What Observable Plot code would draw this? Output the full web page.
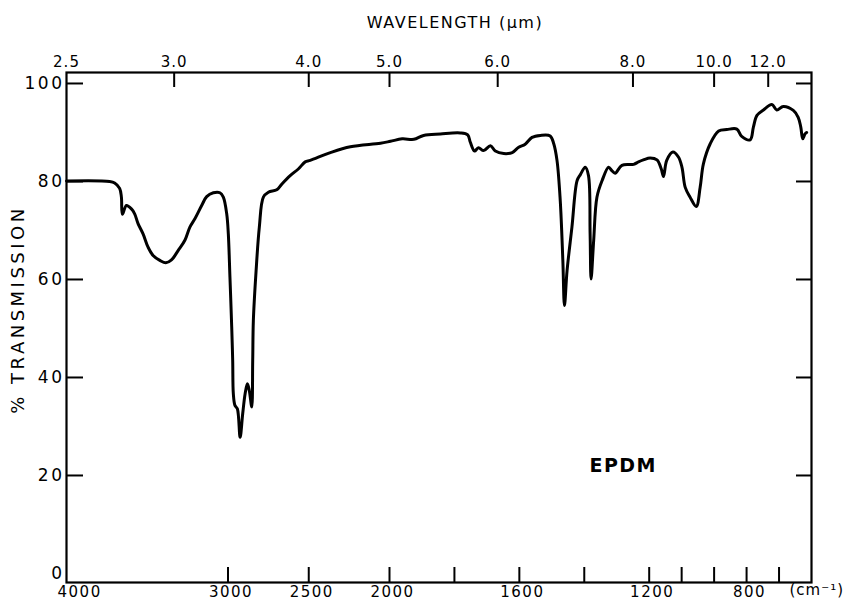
<!DOCTYPE html>
<html>
<head>
<meta charset="utf-8">
<script src="https://cdn.jsdelivr.net/npm/d3@7"></script>
<script src="https://cdn.jsdelivr.net/npm/@observablehq/plot@0.6"></script>
<style>
  html, body { margin: 0; padding: 0; background: #fff; }
  #chart svg { display: block; }
  text[aria-label="y-labels"] { letter-spacing: 2.5px; }
  text[aria-label="x-labels"] { letter-spacing: 1.5px; }
  text[aria-label="x-unit"] { letter-spacing: 1px; }
  text[aria-label="wavelength-labels"] { letter-spacing: 1px; }
  text[aria-label="x-title"] { letter-spacing: 1.5px; }
  text[aria-label="y-title"] { letter-spacing: 3.5px; }
  text[aria-label="sample"] { letter-spacing: 1.5px; }
</style>
</head>
<body>
<div id="chart"></div>
<script>
// IR spectrum of EPDM: wavenumber (cm^-1) and % transmission
const wavenumber = [
  4000, 3733, 3702, 3671, 3660, 3654, 3629, 3598, 3578, 3557, 3526, 3495, 3464, 3422,
  3385, 3350, 3309, 3267, 3236, 3205, 3163, 3132, 3091, 3050, 3029, 3008, 2998, 2988,
  2977, 2971, 2967, 2957, 2942, 2925, 2909, 2894, 2880, 2868, 2853, 2847, 2843, 2826,
  2806, 2781, 2750, 2698, 2666, 2615, 2563, 2522, 2491, 2366, 2242, 2056,
  1997, 1961, 1925, 1895, 1843, 1782, 1759, 1751, 1738, 1726, 1710, 1689, 1674, 1648,
  1622, 1602, 1582, 1561, 1535, 1505, 1494, 1484, 1474, 1466, 1461, 1453, 1438, 1422,
  1412, 1397, 1387, 1382, 1379, 1371, 1361, 1345, 1325, 1315, 1305, 1284, 1248, 1233,
  1218, 1197, 1176, 1163, 1156, 1146, 1127, 1110, 1099, 1089, 1074, 1055, 1043, 1033,
  1012, 986, 961, 930, 915, 889, 879, 868, 848, 822, 807, 787, 756, 741, 733, 727, 720, 715
];
const transmission = [
  80.1, 80.0, 79.7, 78.6, 76.8, 73.3, 75.1, 74.4, 73.4, 71.4, 69.3, 66.6, 64.9, 63.9,
  63.4, 64.0, 65.9, 68.0, 70.7, 72.4, 75.1, 76.9, 77.7, 77.7, 76.8, 73.4, 69.3, 60.5,
  50.3, 43.5, 36.7, 34.3, 33.6, 27.8, 32.6, 36.7, 38.7, 37.3, 34.0, 43.5, 51.6, 61.8,
  70.7, 76.8, 77.8, 78.3, 79.5, 81.2, 82.6, 84.0, 84.3, 85.9, 87.1, 87.8,
  88.2, 88.7, 88.6, 89.4, 89.7, 89.9, 89.5, 88.0, 86.2, 86.9, 86.3, 87.3, 86.2, 85.7,
  85.9, 87.0, 87.6, 89.0, 89.4, 89.3, 87.7, 84.3, 76.1, 63.9, 54.7, 61.8, 70.7, 80.2,
  81.4, 82.9, 81.2, 69.3, 60.1, 68.0, 76.8, 80.2, 82.9, 82.2, 81.7, 83.3, 83.5, 84.0,
  84.4, 84.8, 84.4, 82.6, 81.0, 84.3, 86.0, 85.0, 82.9, 78.8, 76.8, 74.9, 78.8, 83.6,
  87.7, 90.3, 90.6, 90.7, 89.2, 88.5, 91.1, 93.5, 94.6, 95.7, 94.6, 95.3, 94.5, 93.1, 91.1, 88.7, 89.7, 90.0
];

// Axis ticks and labels (bottom labels sit under the ticks they are printed at)
const wavenumberTicks = [3000, 2500, 2000, 1800, 1600, 1400, 1200, 1100, 1000, 900, 800];
const wavenumberLabelAt = [3000, 2500, 2000, 1600, 1200, 900];
const wavenumberLabelText = ["3000", "2500", "2000", "1600", "1200", "800"];
const wavelengthTicks = [2.5, 3.0, 4.0, 5.0, 6.0, 8.0, 10.0, 12.0];
const transmissionTicks = [100, 80, 60, 40, 20];
const transmissionLabels = [100, 80, 60, 40, 20, 0];

const spectrum = wavenumber.map((nu, i) => ({nu, T: transmission[i]}));
const bottomLabels = wavenumberLabelAt.map((at, i) => ({at, text: wavenumberLabelText[i]}));

const W = 843, H = 605;
const mL = 66, mR = 32, mT = 72, mB = 23;
const innerW = W - mL - mR, innerH = H - mT - mB;
const tickLen = 15;
const font = "DejaVu Sans, Noto Sans, sans-serif";
const tag = name => () => name;

const chart = Plot.plot({
  width: W,
  height: H,
  marginLeft: mL, marginRight: mR, marginTop: mT, marginBottom: mB,
  style: {fontFamily: font, color: "#000", background: "#fff"},
  // grating change at 2000 cm^-1: the low-wavenumber half is drawn at double scale
  x: {type: "linear", domain: [4000, 2000, 700], range: [mL, 389, W - mR], axis: null},
  y: {domain: [-1.84, 102.24], axis: null},
  marks: [
    Plot.frame({stroke: "#000", strokeWidth: 2.2}),
    // inward ticks on all four sides
    Plot.tickX(wavenumberTicks, {x: d => d, insetTop: innerH - tickLen, strokeWidth: 2}),
    Plot.tickX(wavelengthTicks.slice(1), {x: d => 1e4 / d, insetBottom: innerH - tickLen, strokeWidth: 2}),
    Plot.tickY(transmissionTicks, {y: d => d, insetRight: innerW - tickLen - 2, strokeWidth: 2}),
    Plot.tickY(transmissionTicks, {y: d => d, insetLeft: innerW - tickLen, strokeWidth: 2}),
    // tick labels
    Plot.text(transmissionLabels, {ariaLabel: tag("y-labels"), y: d => d, frameAnchor: "left", textAnchor: "end", dx: -2, text: d => String(d), fontSize: 17}),
    Plot.text([4000], {ariaLabel: tag("x-labels"), x: d => d, frameAnchor: "bottom", textAnchor: "start", lineAnchor: "top", dx: -9, dy: 4, text: d => String(d), fontSize: 15}),
    Plot.text(bottomLabels, {ariaLabel: tag("x-labels"), x: "at", frameAnchor: "bottom", lineAnchor: "top", dx: 3, dy: 4, text: "text", fontSize: 15}),
    Plot.text(["(cm\u207B\u00B9)"], {ariaLabel: tag("x-unit"), frameAnchor: "bottom-right", textAnchor: "start", lineAnchor: "top", dx: -22, dy: 2, fontSize: 15}),
    Plot.text(wavelengthTicks, {ariaLabel: tag("wavelength-labels"), x: d => 1e4 / d, frameAnchor: "top", lineAnchor: "bottom", dy: -6, text: d => d.toFixed(1), fontSize: 15}),
    // axis titles
    Plot.text(["WAVELENGTH (\u00B5m)"], {ariaLabel: tag("x-title"), frameAnchor: "top", textAnchor: "middle", lineAnchor: "middle", dx: 16, dy: -50, fontSize: 16}),
    Plot.text(["% TRANSMISSION"], {ariaLabel: tag("y-title"), frameAnchor: "left", textAnchor: "middle", rotate: -90, dx: -48, dy: -18, fontSize: 18}),
    // spectrum
    Plot.line(spectrum, {x: "nu", y: "T", curve: "catmull-rom", stroke: "#000", strokeWidth: 3, strokeLinejoin: "round", strokeLinecap: "round"}),
    Plot.text(["EPDM"], {ariaLabel: tag("sample"), x: 1280, y: 22, fontWeight: "bold", fontSize: 19})
  ]
});

document.getElementById("chart").append(chart);
</script>
</body>
</html>
